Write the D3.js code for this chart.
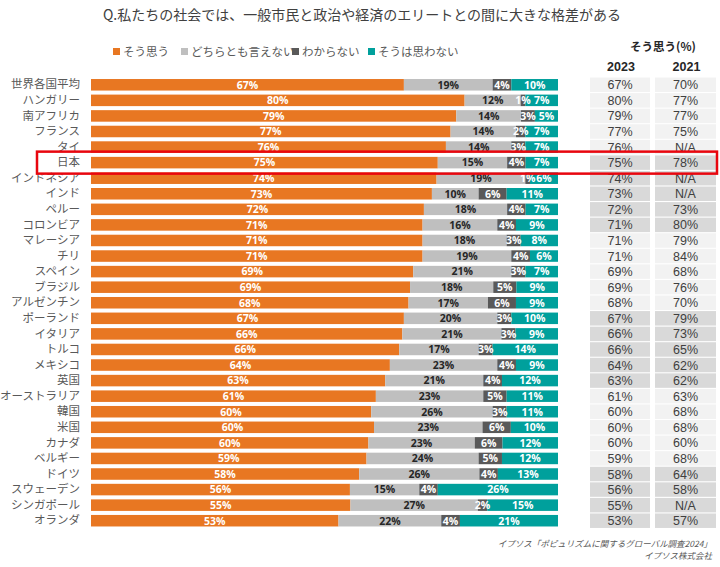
<!DOCTYPE html>
<html><head><meta charset="utf-8">
<script src="https://cdn.jsdelivr.net/npm/d3@7/dist/d3.min.js"></script>
<style>body{margin:0;background:#fff}svg{display:block}</style>
</head><body>
<svg id="c" width="720" height="567"></svg>
<script>
const countries = ["世界各国平均","ハンガリー","南アフリカ","フランス","タイ","日本","インドネシア","インド","ペルー","コロンビア","マレーシア","チリ","スペイン","ブラジル","アルゼンチン","ポーランド","イタリア","トルコ","メキシコ","英国","オーストラリア","韓国","米国","カナダ","ベルギー","ドイツ","スウェーデン","シンガポール","オランダ"];
const agree    = [67,80,79,77,76,75,74,73,72,71,71,71,69,69,68,67,66,66,64,63,61,60,60,60,59,58,56,55,53];
const neutral  = [19,12,14,14,14,15,19,10,18,16,18,19,21,18,17,20,21,17,23,21,23,26,23,23,24,26,15,27,22];
const unknown  = [4,1,3,2,3,4,1,6,4,4,3,4,3,5,6,3,3,3,4,4,5,3,6,6,5,4,4,2,4];
const disagree = [10,7,5,7,7,7,6,11,7,9,8,6,7,9,9,10,9,14,9,12,11,11,10,12,12,13,26,15,21];
const y2023 = ["67%","80%","79%","77%","76%","75%","74%","73%","72%","71%","71%","71%","69%","69%","68%","67%","66%","66%","64%","63%","61%","60%","60%","60%","59%","58%","56%","55%","53%"];
const y2021 = ["70%","77%","77%","75%","N/A","78%","N/A","N/A","73%","80%","79%","84%","68%","76%","70%","79%","73%","65%","62%","62%","63%","68%","68%","60%","68%","64%","58%","N/A","57%"];
const seriesNames = ["そう思う","どちらとも言えない","わからない","そうは思わない"];
const colors = ["#E87722","#BFBFBF","#595959","#00A09C"];
const labelColors = ["#ffffff","#262626","#ffffff","#ffffff"];
const tableHeaders = ["2023","2021"];

const svg = d3.select("#c");
const jp = "'Noto Sans CJK JP','Noto Sans',sans-serif";

// title
svg.append("text").attr("x",362).attr("y",20).attr("text-anchor","middle")
  .attr("font-family",jp).attr("font-size",14).attr("fill","#404040")
  .text("Q.私たちの社会では、一般市民と政治や経済のエリートとの間に大きな格差がある");

// scales
const x = d3.scaleLinear().domain([0,1]).range([91,558]);
const y = d3.scaleBand().domain(countries).range([77,528.5]).paddingInner(0.26).paddingOuter(0.13);
const yt = d3.scaleBand().domain(countries).range([77,528.5]).paddingInner(0.07).paddingOuter(0.035);

const rows = countries.map((c,i)=>{
  const vals=[agree[i],neutral[i],unknown[i],disagree[i]];
  const tot=d3.sum(vals);
  let acc=0;
  return vals.map((v,k)=>{const s={c,k,v,x0:acc/tot,x1:(acc+v)/tot};acc+=v;return s;});
});

// legend
const legX=[113,181,292,368];
const lg = svg.append("g");
seriesNames.forEach((n,k)=>{
  lg.append("rect").attr("x",legX[k]).attr("y",48).attr("width",7).attr("height",7).attr("fill",colors[k]);
  lg.append("text").attr("x",legX[k]+10).attr("y",56).attr("font-family",jp).attr("font-size",11.5).attr("fill","#595959").text(n);
});

// bars
const g = svg.append("g");
rows.forEach(r=>{
  r.forEach(s=>{
    g.append("rect").attr("x",x(s.x0)).attr("y",y(s.c)).attr("width",Math.max(0,x(s.x1)-x(s.x0)))
      .attr("height",y.bandwidth()).attr("fill",colors[s.k]);
  });
});
rows.forEach(r=>{
  r.forEach(s=>{
    g.append("text").attr("x",(x(s.x0)+x(s.x1))/2).attr("y",y(s.c)+y.bandwidth()/2+3.8)
      .attr("text-anchor","middle").attr("font-family","'Open Sans','Noto Sans',sans-serif")
      .attr("font-weight","bold").attr("font-size",10.5).attr("fill",labelColors[s.k]).text(s.v+"%");
  });
});

// y axis labels
const ya = svg.append("g").attr("transform","translate(80,0)")
  .call(d3.axisLeft(y).tickSize(0).tickPadding(0));
ya.select(".domain").remove();
ya.selectAll("text").attr("font-family",jp).attr("font-size",11.5).attr("fill","#595959");

// table header
svg.append("text").attr("x",663).attr("y",51).attr("text-anchor","middle")
  .attr("font-family",jp).attr("font-weight","bold").attr("font-size",11.5).attr("fill","#262626").text("そう思う(%)");
const colX=[590,655], colW=[62,63];
tableHeaders.forEach((h,j)=>{
  svg.append("text").attr("x",colX[j]+colW[j]/2).attr("y",71).attr("text-anchor","middle")
    .attr("font-family","'Liberation Sans',Arial,sans-serif").attr("font-weight","bold").attr("font-size",12.5).attr("fill","#262626").text(h);
});
const tg = svg.append("g");
countries.forEach((c,i)=>{
  const fill = Math.floor(i/5)%2===0 ? "#F2F2F2" : "#D9D9D9";
  [y2023[i],y2021[i]].forEach((t,j)=>{
    tg.append("rect").attr("x",colX[j]).attr("y",yt(c)).attr("width",colW[j]-2).attr("height",yt.bandwidth()).attr("fill",fill);
    tg.append("text").attr("x",colX[j]+colW[j]/2-1).attr("y",yt(c)+yt.bandwidth()/2+4.5).attr("text-anchor","middle")
      .attr("font-family","'Liberation Sans',Arial,sans-serif").attr("font-size",12.5).attr("fill","#404040").text(t);
  });
});

// highlight box for Japan
const jy = y("日本")+y.bandwidth()/2;
svg.append("rect").attr("x",37).attr("y",jy-11).attr("width",680).attr("height",22)
  .attr("fill","none").attr("stroke","#E8060E").attr("stroke-width",2.5);

// source
svg.append("text").attr("x",712).attr("y",547).attr("text-anchor","end").attr("font-family",jp)
  .attr("font-size",8.5).attr("font-style","italic").attr("fill","#595959").text("イプソス「ポピュリズムに関するグローバル調査2024」");
svg.append("text").attr("x",712).attr("y",559).attr("text-anchor","end").attr("font-family",jp)
  .attr("font-size",8.5).attr("font-style","italic").attr("fill","#595959").text("イプソス株式会社");
</script>
</body></html>
